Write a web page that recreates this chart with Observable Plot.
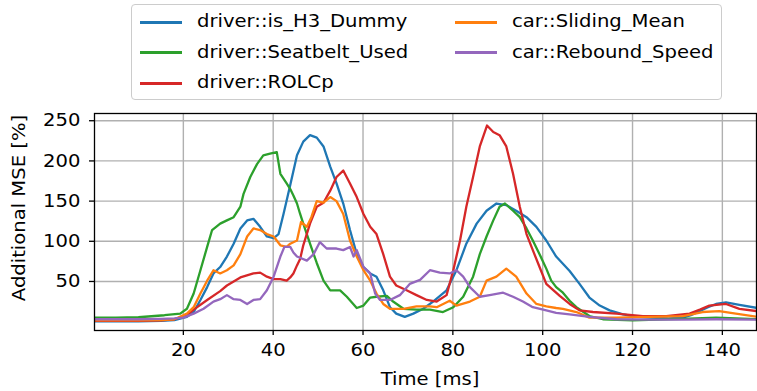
<!DOCTYPE html>
<html>
<head>
<meta charset="utf-8">
<script src="https://cdn.jsdelivr.net/npm/d3@7"></script>
<script src="https://cdn.jsdelivr.net/npm/@observablehq/plot@0.6"></script>
<style>
  body { margin: 0; background: white; }
  #wrap { position: relative; width: 757px; height: 391px; overflow: hidden; font-family: "DejaVu Sans", sans-serif; }
  #legend { position: absolute; left: 131px; top: 4px; width: 591px; height: 96px; border: 1px solid #cccccc; border-radius: 4px; background: rgba(255,255,255,0.8); box-sizing: border-box; }
  .item { position: absolute; height: 0; }
  .sw { position: absolute; width: 42px; height: 0; border-top: 3px solid; top: -1.5px; }
  .lab { position: absolute; left: 57px; top: 0; transform: translateY(-52%) scaleX(1.12); transform-origin: left center; font-size: 17.5px; white-space: nowrap; color: #000; line-height: 1; }
</style>
</head>
<body>
<div id="wrap"><div id="legend"></div></div>
<script>
// ---- data ----
const seriesNames = ["driver::is_H3_Dummy", "driver::Seatbelt_Used", "driver::ROLCp", "car::Sliding_Mean", "car::Rebound_Speed"];
const seriesColors = ["#1f77b4", "#2ca02c", "#d62728", "#ff7f0e", "#9467bd"];
const xTicks = [20, 40, 60, 80, 100, 120, 140];
const yTicks = [50, 100, 150, 200, 250];

const blueT = [0, 5, 10, 15, 18, 20.8, 22.3, 23.8, 25.3, 26.7, 28.2, 29.7, 31.2, 32.7, 34.2, 35.6, 37.1, 38.6, 40.1, 41.2, 42.3, 43.8, 45.3, 46.7, 48.2, 49.7, 51.2, 52.7, 54.1, 55.6, 57.1, 58.6, 60.1, 61.6, 63, 64.5, 66, 67.4, 69.3, 71.2, 73.4, 75.6, 78.6, 80.8, 83, 85.3, 87.5, 89.7, 91.9, 94.1, 96.4, 98.6, 100.8, 103, 104.5, 106, 108.2, 110.4, 112.7, 114.9, 117.9, 121, 124, 128, 131.2, 133, 134.9, 136.8, 138.6, 140.8, 143.8, 147.8];
const blueV = [0.5, 0.5, 0.5, 1, 2, 6, 12, 27, 43, 60, 68, 81, 97, 116, 126, 128, 118, 106, 104, 109, 134, 170, 207, 224, 232, 229, 218, 193, 172, 147, 114, 84, 68, 60, 56, 39, 18, 10, 6, 10, 16, 25, 39, 64, 97, 122, 138, 147, 145, 138, 130, 118, 101, 81, 72, 63, 47, 30, 20, 14, 9, 6, 5, 4, 5, 8, 13, 18, 22, 24, 21, 17];

const greenT = [0, 5, 10, 15.8, 19.3, 20.8, 22.3, 23.8, 25.3, 26.4, 28.2, 29.7, 31.2, 32.7, 33.4, 34.9, 36.4, 37.8, 39.3, 40.8, 41.6, 43, 43.8, 44.5, 45.3, 46, 46.7, 48.2, 49.7, 51.2, 52.7, 54.9, 56.4, 58.6, 60.1, 61.6, 63, 65.3, 66.7, 69, 71.9, 74.9, 77.8, 80.1, 82.3, 84.5, 86, 87.5, 89, 90.4, 91.6, 93.4, 94.9, 96.4, 97.8, 99.3, 100.8, 101.9, 103, 104.5, 106, 107.5, 110.4, 113.4, 120, 131, 138.6, 147.8];
const greenV = [5, 5, 5.5, 8, 10, 16, 35, 64, 93, 114, 122, 126, 130, 143, 159, 180, 196, 207, 209, 211, 184, 172, 165, 157, 147, 134, 122, 97, 73, 51, 39, 39, 31, 17, 20, 30, 31, 32, 25, 16, 15, 15, 12, 18, 31, 56, 84, 106, 126, 143, 147, 138, 130, 116, 101, 84, 66, 51, 43, 36, 26, 18, 7, 3, 1.5, 3.5, 5, 3];

const redT = [0, 5, 10, 15, 18, 20.8, 22.3, 25.3, 28.2, 29.7, 32.7, 35.6, 37.1, 38.6, 40.1, 41.6, 43, 43.8, 44.5, 45.3, 46, 46.7, 48.2, 49.7, 51.2, 52.7, 54.1, 55.6, 57.1, 58.6, 60.1, 61.6, 63, 64.5, 66, 67.4, 69.7, 71.9, 74.2, 76.4, 78.6, 80.1, 81.6, 83, 84.5, 86, 87.6, 89, 90.4, 91.9, 93.4, 94.9, 96.4, 97.8, 99.3, 100.8, 101.6, 103.8, 106, 108.2, 111.2, 116.4, 122.3, 127.5, 132.7, 135, 137.1, 140.8, 143.8, 147.8];
const redV = [1, 1, 1, 1.5, 3, 8, 15, 27, 38, 45, 55, 60, 61, 56, 53, 53, 51, 55, 60, 70, 78, 95, 122, 143, 148, 163, 180, 188, 172, 155, 134, 118, 109, 84, 56, 45, 39, 33, 27, 25, 33, 64, 101, 143, 180, 218, 244, 236, 232, 218, 184, 143, 109, 89, 68, 47, 43, 32, 22, 14, 12, 10, 7, 7, 10, 15, 20, 22, 16, 13];

const orangeT = [0, 5, 10, 15, 18, 20.8, 22.3, 23.8, 25.3, 26.7, 28.2, 29.7, 31.2, 32.7, 34.2, 35.6, 37.1, 38.6, 40.1, 41.6, 43, 43.8, 45.3, 46.2, 47.5, 48.5, 49.7, 51.2, 52.7, 54.1, 55.6, 57.1, 58.6, 60.1, 61.6, 63, 64.5, 66, 69, 71.9, 74.9, 76.4, 79.3, 80.8, 83.8, 86, 87.5, 89.7, 91.9, 94.1, 96.4, 98.6, 100.8, 103, 104.5, 107.5, 110.4, 116.4, 123.8, 131.2, 135.6, 139.3, 143, 147.8];
const orangeV = [1.5, 1.5, 1.5, 2, 3, 10, 18, 35, 51, 64, 60, 64, 70, 84, 106, 116, 114, 109, 106, 95, 93, 97, 101, 124, 118, 130, 150, 148, 155, 150, 134, 101, 81, 64, 51, 35, 22, 16, 16, 19, 19, 18, 26, 20, 25, 31, 51, 56, 66, 56, 35, 22, 19, 17, 16, 12, 5, 5, 6, 7, 12, 13, 10, 6];

const purpleT = [0, 5, 10, 15, 18, 20, 22.3, 24.5, 26.7, 28.2, 29.7, 31.2, 32.7, 34.2, 35.6, 37.1, 38.6, 40.1, 41.6, 42.5, 43.8, 44.5, 45.3, 47.5, 49, 50.4, 51.9, 54.1, 55.6, 57.1, 57.9, 58.6, 60.1, 61.6, 62.7, 63.8, 66, 68.2, 70.4, 72.7, 74.9, 77.1, 79.3, 80.8, 82.3, 83.8, 86, 88.2, 91.2, 93.4, 95.6, 97.8, 100.8, 103, 106, 110.4, 116.4, 123.8, 131.2, 138.6, 147.8];
const purpleV = [3, 3, 3, 3.5, 4, 5, 10, 16, 25, 28, 33, 28, 27, 22, 27, 28, 39, 56, 81, 93, 93, 86, 81, 76, 84, 99, 91, 91, 89, 93, 81, 89, 68, 60, 35, 27, 27, 33, 47, 52, 64, 61, 60, 64, 56, 43, 31, 33, 36, 31, 25, 18, 14, 11, 9, 6, 3, 2.5, 2.5, 3, 2.5];

const seriesT = [blueT, greenT, redT, orangeT, purpleT];
const seriesV = [blueV, greenV, redV, orangeV, purpleV];

const rows = [];
seriesNames.forEach((name, s) => {
  seriesT[s].forEach((t, i) => rows.push({series: name, t, v: seriesV[s][i]}));
});

const FS = 17.5, K = 1.12;

const chart = Plot.plot({
  width: 757,
  height: 391,
  marginLeft: 94,
  marginRight: 1,
  marginTop: 113,
  marginBottom: 61,
  style: {fontFamily: "DejaVu Sans", fontSize: FS + "px", color: "black", background: "white", overflow: "visible"},
  x: {domain: [0.22, 147.6], label: null},
  y: {domain: [-11, 259], label: null},
  color: {domain: seriesNames, range: seriesColors},
  marks: [
    Plot.gridX(xTicks, {stroke: "#b0b0b0", strokeOpacity: 1, strokeWidth: 1.4}),
    Plot.gridY(yTicks, {stroke: "#b0b0b0", strokeOpacity: 1, strokeWidth: 1.4}),
    Plot.line(rows, {x: "t", y: "v", z: "series", stroke: "series", strokeWidth: 2.3, strokeLinejoin: "round", clip: true}),
    Plot.frame({stroke: "black", strokeWidth: 1.3}),
    Plot.axisX(xTicks, {tickSize: 5, tickPadding: 8, strokeWidth: 1.3, fontSize: FS, label: null, tickFormat: d => String(d)}),
    Plot.axisY(yTicks, {tickSize: 5, tickPadding: 9, strokeWidth: 1.3, fontSize: FS, label: null, tickFormat: d => String(d)})
  ]
});

const wrap = document.getElementById("wrap");
wrap.insertBefore(chart, wrap.firstChild);

const svg = d3.select(chart);
svg.append("text").attr("x", 430).attr("y", 385).attr("text-anchor", "middle")
  .attr("font-size", FS).attr("fill", "black").text("Time [ms]");
svg.append("text").attr("transform", "translate(24.5,208) rotate(-90)").attr("text-anchor", "middle")
  .attr("font-size", FS).attr("fill", "black").text("Additional MSE [%]");

// horizontal glyph stretch to match the reference's proportions
chart.querySelectorAll("text").forEach(t => {
  const bb = t.getBBox();
  const anchor = getComputedStyle(t).textAnchor;
  const ax = anchor === "end" ? bb.x + bb.width : anchor === "middle" ? bb.x + bb.width / 2 : bb.x;
  const prev = t.getAttribute("transform") || "";
  t.setAttribute("transform", `${prev} translate(${ax},0) scale(${K},1) translate(${-ax},0)`);
});

// legend (matplotlib style, 2 columns, column-major order)
const legend = document.getElementById("legend");
const colX = [8, 323];
const rowY = [17, 47.5, 78];
seriesNames.forEach((name, i) => {
  const col = i < 3 ? 0 : 1;
  const row = i < 3 ? i : i - 3;
  const item = document.createElement("div");
  item.className = "item";
  item.style.left = colX[col] + "px";
  item.style.top = rowY[row] + "px";
  const sw = document.createElement("div");
  sw.className = "sw";
  sw.style.borderTopColor = seriesColors[i];
  const lab = document.createElement("div");
  lab.className = "lab";
  lab.textContent = name;
  item.appendChild(sw);
  item.appendChild(lab);
  legend.appendChild(item);
});
</script>
</body>
</html>
